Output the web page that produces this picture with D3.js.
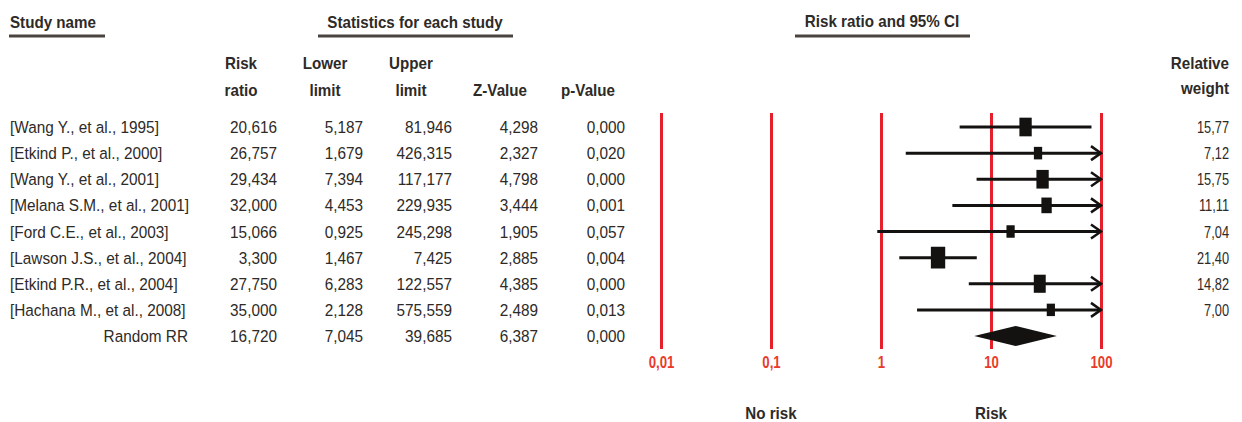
<!DOCTYPE html>
<html>
<head>
<meta charset="utf-8">
<script src="https://cdn.jsdelivr.net/npm/d3@7"></script>
<style>
  html, body { margin: 0; padding: 0; background: #ffffff; }
  svg { display: block; }
  text { font-family: "Liberation Sans", Arial, sans-serif; fill: #2e2a28; }
</style>
</head>
<body>
<svg id="chart" width="1242" height="422"></svg>
<script>
// ---- data ----
const studies = [
  "[Wang Y., et al., 1995]",
  "[Etkind P., et al., 2000]",
  "[Wang Y., et al., 2001]",
  "[Melana S.M., et al., 2001]",
  "[Ford C.E., et al., 2003]",
  "[Lawson J.S., et al., 2004]",
  "[Etkind P.R., et al., 2004]",
  "[Hachana M., et al., 2008]"
];
const riskRatio = [20.616, 26.757, 29.434, 32.000, 15.066, 3.300, 27.750, 35.000];
const lowerLimit = [5.187, 1.679, 7.394, 4.453, 0.925, 1.467, 6.283, 2.128];
const upperLimit = [81.946, 426.315, 117.177, 229.935, 245.298, 7.425, 122.557, 575.559];
const zValue = [4.298, 2.327, 4.798, 3.444, 1.905, 2.885, 4.385, 2.489];
const pValue = [0.000, 0.020, 0.000, 0.001, 0.057, 0.004, 0.000, 0.013];
const relWeight = [15.77, 7.12, 15.75, 11.11, 7.04, 21.40, 14.82, 7.00];

const pooledLabel = "Random RR";
const pooledRR = 16.720;
const pooledLower = 7.045;
const pooledUpper = 39.685;
const pooledZ = 6.387;
const pooledP = 0.000;

const axisTicks = [0.01, 0.1, 1, 10, 100];
const axisTickLabels = ["0,01", "0,1", "1", "10", "100"];
const sideLabels = ["No risk", "Risk"];
const sideLabelAt = [0.1, 10];

// ---- setup ----
const svg = d3.select("#chart");
const locale = d3.formatLocale({ decimal: ",", thousands: ".", grouping: [3], currency: ["", ""] });
const f3 = locale.format(".3f");
const f2 = locale.format(".2f");

const rows = studies.concat([pooledLabel]);
const x = d3.scaleLog().domain([0.01, 100]).range([661, 1101]);
const y = d3.scalePoint().domain(rows).range([127, 336]);

const INK = "#2e2a28";
const RED = "#e5202a";
const BODY = { size: 16.5, sx: 0.93 };
const HEAD = { size: 16.5, sx: 0.92, bold: true };

// text helper with optional horizontal squeeze
function label(g, px, py, txt, o = {}) {
  const sx = o.sx || 1;
  return g.append("text")
    .attr("transform", `translate(${px},${py}) scale(${sx},1)`)
    .attr("text-anchor", o.anchor || "start")
    .attr("font-size", o.size || 15)
    .attr("font-weight", o.bold ? "bold" : "normal")
    .style("fill", o.fill || INK)
    .text(txt);
}

// ---- header ----
const head = svg.append("g");
label(head, 10, 28, "Study name", HEAD);
label(head, 415, 28, "Statistics for each study", { ...HEAD, anchor: "middle" });
label(head, 882, 27, "Risk ratio and 95% CI", { ...HEAD, anchor: "middle" });
[[9, 105], [318, 513], [795, 970]].forEach(([a, b]) => {
  head.append("line").attr("x1", a).attr("x2", b).attr("y1", 36).attr("y2", 36)
    .attr("stroke", "#4a4441").attr("stroke-width", 3);
});

const colHeads = [
  { cx: 241, l1: "Risk", l2: "ratio" },
  { cx: 325, l1: "Lower", l2: "limit" },
  { cx: 411, l1: "Upper", l2: "limit" },
  { cx: 500, l1: "", l2: "Z-Value" },
  { cx: 588, l1: "", l2: "p-Value" }
];
colHeads.forEach(c => {
  if (c.l1) label(head, c.cx, 69, c.l1, { ...HEAD, anchor: "middle" });
  label(head, c.cx, 96, c.l2, { ...HEAD, anchor: "middle" });
});
label(head, 1229, 69, "Relative", { ...HEAD, anchor: "end" });
label(head, 1229, 94, "weight", { ...HEAD, anchor: "end" });

// ---- table ----
const table = svg.append("g");
const colRight = [277, 363, 452, 538, 625];
studies.forEach((s, i) => {
  const yy = y(s) + 6;
  label(table, 10, yy, s, BODY);
  [riskRatio[i], lowerLimit[i], upperLimit[i], zValue[i], pValue[i]].forEach((v, j) => {
    label(table, colRight[j], yy, f3(v), { ...BODY, anchor: "end" });
  });
  label(table, 1229, yy, f2(relWeight[i]), { size: 16, sx: 0.8, anchor: "end" });
});
{
  const yy = y(pooledLabel) + 6;
  label(table, 188, yy, pooledLabel, { ...BODY, anchor: "end" });
  [pooledRR, pooledLower, pooledUpper, pooledZ, pooledP].forEach((v, j) => {
    label(table, colRight[j], yy, f3(v), { ...BODY, anchor: "end" });
  });
}

// ---- axis with full-height red reference lines ----
const axisY = 349;
const axis = d3.axisBottom(x)
  .tickValues(axisTicks)
  .tickFormat((d, i) => axisTickLabels[i])
  .tickSizeInner(-(axisY - 113))
  .tickSizeOuter(0)
  .tickPadding(7);
const ag = svg.append("g").attr("transform", `translate(0,${axisY})`).call(axis);
ag.select(".domain").remove();
ag.selectAll(".tick line").attr("stroke", RED).attr("stroke-width", 3);
ag.selectAll(".tick text")
  .attr("font-size", 16.5)
  .attr("font-weight", "bold")
  .attr("font-family", "Liberation Sans, Arial, sans-serif")
  .style("fill", "#ea3a2a")
  .attr("transform", "scale(0.8,1)");

// ---- study CIs, boxes and arrows ----
const plot = svg.append("g");
const xMin = 0.01, xMax = 100;
studies.forEach((s, i) => {
  const cy = y(s);
  const lo = Math.max(lowerLimit[i], xMin);
  const hi = Math.min(upperLimit[i], xMax);
  plot.append("line")
    .attr("x1", x(lo)).attr("x2", x(hi)).attr("y1", cy).attr("y2", cy)
    .attr("stroke", "#141210").attr("stroke-width", 3);
  if (upperLimit[i] > xMax) {
    const tx = x(xMax);
    plot.append("path")
      .attr("d", `M${tx - 10},${cy - 7}L${tx},${cy}L${tx - 10},${cy + 7}`)
      .attr("fill", "none").attr("stroke", "#141210").attr("stroke-width", 2.5);
  }
  const r = Math.sqrt(relWeight[i]);
  const bw = 3.1 * r, bh = 4.7 * r;
  plot.append("rect")
    .attr("x", x(riskRatio[i]) - bw / 2).attr("y", cy - bh / 2)
    .attr("width", bw).attr("height", bh)
    .attr("fill", "#141210");
});

// pooled diamond
{
  const cy = y(pooledLabel);
  const h = 10;
  plot.append("path")
    .attr("d", `M${x(pooledLower)},${cy}L${x(pooledRR)},${cy - h}L${x(pooledUpper)},${cy}L${x(pooledRR)},${cy + h}Z`)
    .attr("fill", "#141210");
}

// ---- side labels ----
sideLabels.forEach((t, i) => {
  label(svg, x(sideLabelAt[i]), 419, t, { ...HEAD, anchor: "middle" });
});
</script>
</body>
</html>
